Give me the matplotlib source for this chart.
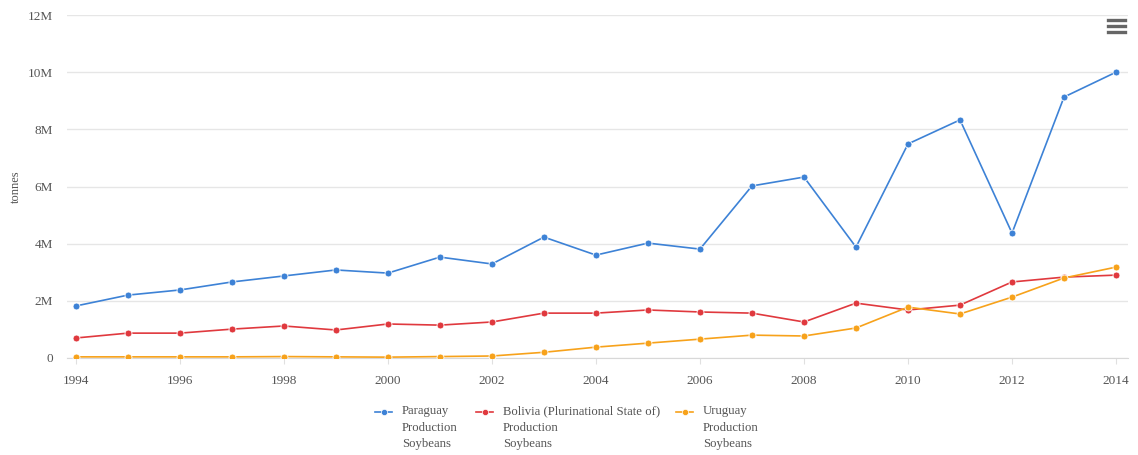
import numpy as np
import matplotlib.pyplot as plt
from matplotlib.lines import Line2D
from matplotlib.ticker import FuncFormatter

plt.rcParams["font.family"] = ["Liberation Serif", "DejaVu Serif"]

years = list(range(1994, 2015))

# Production, millions of tonnes
paraguay = [1.82, 2.20, 2.38, 2.66, 2.87, 3.08, 2.97, 3.53, 3.29, 4.23, 3.60,
            4.02, 3.81, 6.02, 6.33, 3.88, 7.49, 8.33, 4.37, 9.13, 10.00]
bolivia = [0.70, 0.87, 0.87, 1.01, 1.12, 0.98, 1.19, 1.15, 1.26, 1.57, 1.57,
           1.68, 1.61, 1.57, 1.26, 1.92, 1.68, 1.85, 2.66, 2.83, 2.90]
uruguay = [0.04, 0.04, 0.04, 0.04, 0.05, 0.04, 0.03, 0.05, 0.07, 0.20, 0.38,
           0.52, 0.66, 0.80, 0.77, 1.05, 1.78, 1.54, 2.13, 2.80, 3.18]

series = [
    ("Paraguay\nProduction\nSoybeans", paraguay, "#3d82d6"),
    ("Bolivia (Plurinational State of)\nProduction\nSoybeans", bolivia, "#e0393e"),
    ("Uruguay\nProduction\nSoybeans", uruguay, "#f7a21b"),
]

W, H = 1138, 455
fig = plt.figure(figsize=(W / 100, H / 100), dpi=100)
ax = fig.add_axes([67 / W, 1 - 358 / H, 1061 / W, 343 / H])

for label, vals, color in series:
    ax.plot(years, np.array(vals) * 1e6, color=color, lw=1.2, marker="o",
            ms=5, mec="white", mew=0.6, zorder=3)

ax.set_xlim(1993.83, 2014.23)
ax.set_ylim(0, 12e6)
ax.set_xticks(range(1994, 2015, 2))
ax.set_yticks(np.arange(0, 12.1e6, 2e6))
ax.yaxis.set_major_formatter(FuncFormatter(lambda v, p: "0" if v == 0 else f"{v / 1e6:.0f}M"))
ax.grid(axis="y", color="#e6e6e6", lw=1)
ax.set_axisbelow(True)
for s in ["top", "right", "left"]:
    ax.spines[s].set_visible(False)
ax.spines["bottom"].set_color("#d8d8d8")
ax.tick_params(axis="y", length=0, pad=10, labelsize=9.5, labelcolor="#555555")
ax.tick_params(axis="x", length=4, color="#e0e0e0", pad=8, labelsize=9.5, labelcolor="#555555")
ax.set_ylabel("tonnes", fontsize=9, color="#555555")
ax.yaxis.set_label_coords(-0.043, 0.5)

# legend below the plot, drawn by hand so handles sit on the first text line
handle_x = [375, 476, 676]
for (label, vals, color), hx in zip(series, handle_x):
    fy = 1 - 412 / H
    fig.add_artist(Line2D([hx / W, (hx + 17) / W], [fy, fy], color=color, lw=1.2))
    fig.add_artist(Line2D([(hx + 8.5) / W], [fy], color=color, marker="o", ms=4.5,
                          mec="white", mew=0.5))
    fig.text((hx + 27) / W, 1 - 405 / H, label, fontsize=9.2, color="#555555",
             va="top", ha="left", linespacing=1.52)

# menu icon
for py in [20, 26, 32]:
    fig.add_artist(Line2D([1108 / W, 1125 / W], [1 - py / H] * 2, color="#666666", lw=2.4))

fig.savefig("out.png", dpi=100, facecolor="white")
